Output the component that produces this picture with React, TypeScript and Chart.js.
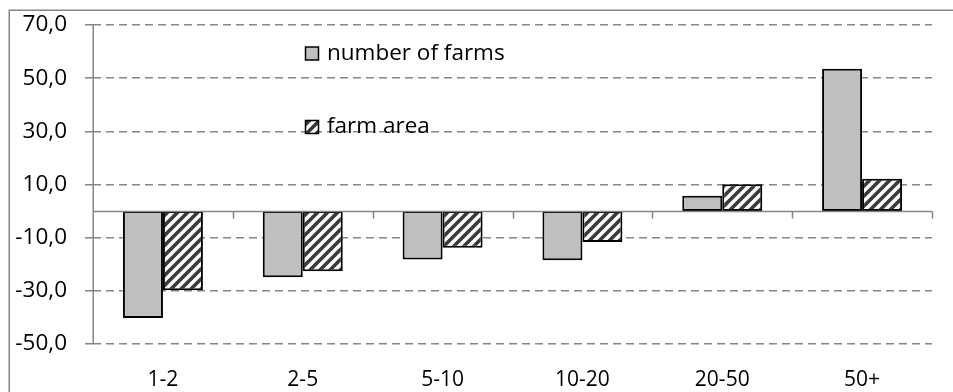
import { useEffect, useRef } from "react";
import { Chart, registerables } from "chart.js";

Chart.register(...registerables);

// Farm size groups (ha) and percentage changes
const categories = ["1-2", "2-5", "5-10", "10-20", "20-50", "50+"];
const numberOfFarms = [-40.2, -24.9, -18.2, -18.5, 5.8, 53.5];
const farmArea = [-29.8, -22.6, -13.8, -11.6, 10.1, 12.2];
const seriesNames = ["number of farms", "farm area"];
const yMin = -50;
const yMax = 70;
const yStep = 20;

const FONT = "'Open Sans', sans-serif";
const AXIS_GRAY = "#868686";

function makeHatch(): CanvasPattern | string {
  const tile = document.createElement("canvas");
  const s = 10;
  tile.width = s;
  tile.height = s;
  const c = tile.getContext("2d");
  if (!c) return "#ffffff";
  c.fillStyle = "#ffffff";
  c.fillRect(0, 0, s, s);
  c.strokeStyle = "#3a3a3a";
  c.lineWidth = 3.6;
  c.lineCap = "square";
  const seg = (x0: number, y0: number, x1: number, y1: number) => {
    c.beginPath();
    c.moveTo(x0, y0);
    c.lineTo(x1, y1);
    c.stroke();
  };
  seg(-2, s + 2, s + 2, -2);
  seg(-s / 2 - 2, s / 2 + 2, s / 2 + 2, -s / 2 - 2);
  seg(s / 2 - 2, s * 1.5 + 2, s * 1.5 + 2, s / 2 - 2);
  const p = c.createPattern(tile, "repeat");
  return p ?? "#ffffff";
}

export default function App() {
  const ref = useRef<HTMLCanvasElement | null>(null);

  useEffect(() => {
    const canvas = ref.current;
    if (!canvas) return;
    const hatch = makeHatch();

    const framePlugin = {
      id: "frame",
      beforeDraw(chart: any) {
        const ctx = chart.ctx;
        ctx.save();
        ctx.fillStyle = "#ffffff";
        ctx.fillRect(0, 0, chart.width, chart.height);
        ctx.strokeStyle = AXIS_GRAY;
        ctx.lineWidth = 1.5;
        ctx.strokeRect(9.25, 10.25, chart.width + 20, chart.height + 20);
        ctx.restore();
      },
    };

    // Solid value axis line plus the horizontal axis crossing at zero with its tick marks
    const axesPlugin = {
      id: "solidAxes",
      afterDatasetsDraw(chart: any) {
        const { ctx, chartArea, scales } = chart;
        const y0 = Math.round(scales.y.getPixelForValue(0)) + 0.5;
        const n = categories.length;
        const step = (chartArea.right - chartArea.left) / n;
        ctx.save();
        ctx.setLineDash([]);
        ctx.strokeStyle = AXIS_GRAY;
        ctx.lineWidth = 1.5;
        ctx.beginPath();
        const xl = Math.round(chartArea.left) + 0.25;
        ctx.moveTo(xl, chartArea.top);
        ctx.lineTo(xl, chartArea.bottom);
        ctx.moveTo(chartArea.left, y0);
        ctx.lineTo(chartArea.right, y0);
        for (let i = 1; i <= n; i++) {
          const x = Math.round(chartArea.left + i * step) + 0.5;
          ctx.moveTo(x, y0);
          ctx.lineTo(x, y0 + 7);
        }
        ctx.stroke();
        ctx.restore();
      },
    };

    const legendPlugin = {
      id: "insideLegend",
      afterDraw(chart: any) {
        const ctx = chart.ctx;
        const rows = [53.5, 127];
        ctx.save();
        ctx.font = `22.5px ${FONT}`;
        ctx.textBaseline = "middle";
        ctx.textAlign = "left";
        chart.data.datasets.forEach((ds: any, i: number) => {
          const cy = rows[i];
          const bx = 305.5;
          const by = cy - 6.5;
          ctx.fillStyle = ds.backgroundColor;
          ctx.fillRect(bx, by, 13, 13);
          ctx.strokeStyle = "#000000";
          ctx.lineWidth = 1.5;
          ctx.strokeRect(bx, by, 13, 13);
          ctx.fillStyle = "#000000";
          ctx.fillText(ds.label, 327, cy);
        });
        ctx.restore();
      },
    };

    const chart = new Chart(canvas, {
      type: "bar",
      data: {
        labels: categories,
        datasets: [
          {
            label: seriesNames[0],
            data: numberOfFarms,
            backgroundColor: "#bfbfbf",
            borderColor: "#000000",
            borderWidth: 2,
            borderSkipped: false,
          },
          {
            label: seriesNames[1],
            data: farmArea,
            backgroundColor: hatch as any,
            borderColor: "#000000",
            borderWidth: 2,
            borderSkipped: false,
          },
        ],
      },
      options: {
        animation: false,
        responsive: false,
        maintainAspectRatio: false,
        datasets: {
          bar: { categoryPercentage: 0.572, barPercentage: 1 },
        },
        layout: { padding: { left: 0, right: 21, top: 25, bottom: 0 } },
        plugins: {
          legend: { display: false },
          tooltip: { enabled: false },
        },
        scales: {
          x: {
            offset: true,
            grid: { display: false, drawTicks: false },
            border: { display: false },
            ticks: {
              color: "#000000",
              font: { family: FONT, size: 21 },
              padding: 23,
            },
            afterFit: (s: any) => {
              s.height = 48;
            },
          },
          y: {
            min: yMin,
            max: yMax,
            grid: {
              color: AXIS_GRAY,
              lineWidth: 1.5,
              tickLength: 8,
              tickBorderDash: [8, 5],
            } as any,
            border: { display: false, dash: [8, 5] },
            ticks: {
              stepSize: yStep,
              color: "#000000",
              font: { family: FONT, size: 22.5 },
              padding: 18,
              callback: (v: any) => Number(v).toFixed(1).replace(".", ","),
            },
            afterFit: (s: any) => {
              s.width = 93;
              s.paddingTop = 0;
              s.paddingBottom = 0;
            },
          },
        },
      },
      plugins: [framePlugin, axesPlugin, legendPlugin],
    });

    return () => chart.destroy();
  }, []);

  return (
    <div style={{ position: "fixed", left: 0, top: 0, width: 953, height: 392 }}>
      <canvas ref={ref} width={953} height={392} style={{ display: "block" }} />
    </div>
  );
}
